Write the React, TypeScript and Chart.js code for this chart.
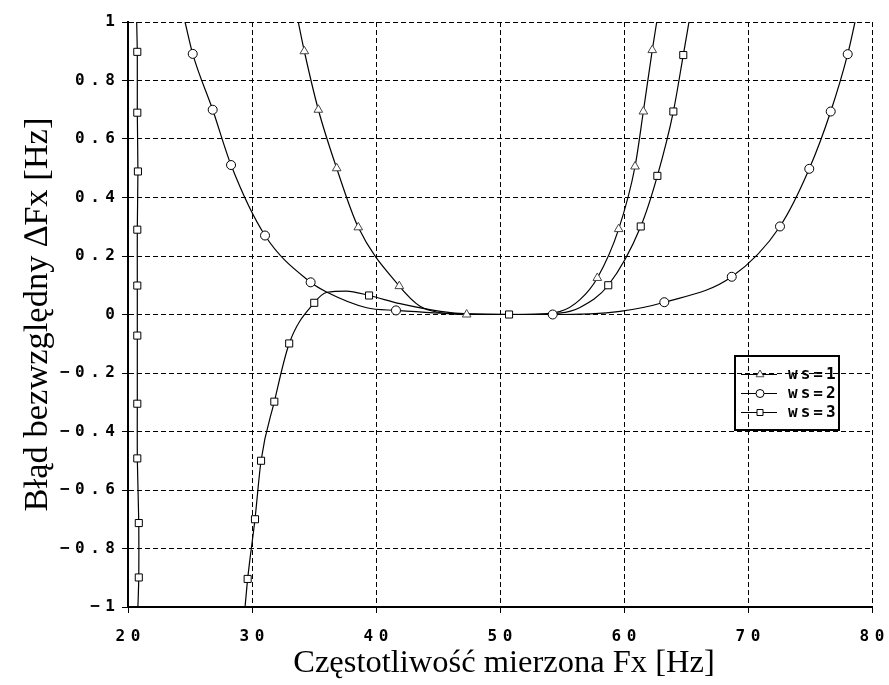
import React, { useEffect, useRef } from 'react';
import { Chart, registerables } from 'chart.js';

Chart.register(...registerables);

const xTicks = [20, 30, 40, 50, 60, 70, 80];
const xTickLabels = ['20', '30', '40', '50', '60', '70', '80'];
const yTicks = [-1, -0.8, -0.6, -0.4, -0.2, 0, 0.2, 0.4, 0.6, 0.8, 1];
const yTickLabels = ['−1', '−0.8', '−0.6', '−0.4', '−0.2', '0', '0.2', '0.4', '0.6', '0.8', '1'];
const seriesNames = ['ws=1', 'ws=2', 'ws=3'];
const xTitle = 'Częstotliwość mierzona Fx [Hz]';
const yTitle = 'Błąd bezwzględny ∆Fx [Hz]';

// ws=1 (triangles)
const ws1PathX = [33.73, 34.22, 35.35, 36.83, 38.57, 41.88, 43.55, 45.2, 47.31, 52.0, 54.8, 56.45, 57.85, 59.57, 60.89, 61.56, 62.28, 62.64];
const ws1PathY = [1.0, 0.9, 0.7, 0.5, 0.298, 0.097, 0.028, 0.006, 0.0, 0.0, 0.01, 0.051, 0.125, 0.292, 0.506, 0.694, 0.904, 1.0];
const ws1MarkX = [34.22, 35.35, 36.83, 38.57, 41.88, 47.31, 57.85, 59.57, 60.89, 61.56, 62.28];
const ws1MarkY = [0.9, 0.7, 0.5, 0.298, 0.097, 0.0, 0.125, 0.292, 0.506, 0.694, 0.904];

// ws=2 (circles)
const ws2PathX = [24.6, 25.22, 26.83, 28.31, 31.05, 34.73, 36.05, 39.25, 41.61, 47.0, 54.25, 59.68, 63.25, 68.69, 72.58, 74.94, 76.67, 78.04, 78.63];
const ws2PathY = [1.0, 0.891, 0.7, 0.511, 0.27, 0.11, 0.076, 0.023, 0.014, 0.002, 0.0, 0.011, 0.042, 0.129, 0.301, 0.498, 0.694, 0.89, 1.0];
const ws2MarkX = [25.22, 26.83, 28.31, 31.05, 34.73, 41.61, 54.25, 63.25, 68.69, 72.58, 74.94, 76.67, 78.04];
const ws2MarkY = [0.891, 0.7, 0.511, 0.27, 0.11, 0.014, 0.0, 0.042, 0.129, 0.301, 0.498, 0.694, 0.89];

// ws=3 (squares) - left branch
const ws3aPathX = [20.7, 20.75, 20.75, 20.8, 20.75, 20.75, 20.75, 20.75, 20.75, 20.87, 20.87, 20.8];
const ws3aPathY = [1.0, 0.898, 0.69, 0.489, 0.29, 0.099, -0.072, -0.305, -0.492, -0.713, -0.899, -1.0];
const ws3aMarkX = [20.75, 20.75, 20.8, 20.75, 20.75, 20.75, 20.75, 20.75, 20.87, 20.87];
const ws3aMarkY = [0.898, 0.69, 0.489, 0.29, 0.099, -0.072, -0.305, -0.492, -0.713, -0.899];
// ws=3 - right branch
const ws3bPathX = [29.44, 29.65, 30.24, 30.73, 31.8, 33.0, 35.02, 36.05, 37.6, 39.44, 41.94, 45.2, 47.5, 50.73, 54.8, 56.45, 58.73, 61.35, 62.69, 63.98, 64.78, 65.24];
const ws3bPathY = [-1.0, -0.904, -0.7, -0.5, -0.298, -0.099, 0.04, 0.076, 0.08, 0.065, 0.037, 0.011, 0.002, 0.0, 0.005, 0.024, 0.1, 0.301, 0.474, 0.694, 0.887, 1.0];
const ws3bMarkX = [29.65, 30.24, 30.73, 31.8, 33.0, 35.02, 39.44, 50.73, 58.73, 61.35, 62.69, 63.98, 64.78];
const ws3bMarkY = [-0.904, -0.7, -0.5, -0.298, -0.099, 0.04, 0.065, 0.0, 0.1, 0.301, 0.474, 0.694, 0.887];

const zip = (xs: number[], ys: number[]) => xs.map((x, i) => ({ x, y: ys[i] }));

const tickFont = { family: '"DejaVu Sans Mono", monospace', size: 16, weight: 'bold' as const };
const TICK_SPACING = 5.5;
const LEGEND_SPACING = 3;

function drawMarker(ctx: CanvasRenderingContext2D, kind: string, x: number, y: number) {
  ctx.beginPath();
  if (kind === 'triangle') {
    const r = 4.5;
    ctx.moveTo(x, y - r);
    ctx.lineTo(x + r * 0.866, y + r * 0.5);
    ctx.lineTo(x - r * 0.866, y + r * 0.5);
    ctx.closePath();
    ctx.strokeStyle = '#444';
  } else if (kind === 'circle') {
    ctx.arc(x, y, 4, 0, Math.PI * 2);
    ctx.strokeStyle = '#000';
  } else {
    ctx.rect(x - 3, y - 3, 6, 6);
    ctx.strokeStyle = '#000';
  }
  ctx.fillStyle = '#fff';
  ctx.fill();
  ctx.lineWidth = 1;
  ctx.stroke();
}

const customPlugin = {
  id: 'customDecor',
  beforeDraw(chart: any) {
    chart.ctx.letterSpacing = TICK_SPACING + 'px';
  },
  afterDraw(chart: any) {
    const ctx: CanvasRenderingContext2D = chart.ctx;
    const area = chart.chartArea;
    ctx.save();
    (ctx as any).letterSpacing = '0px';
    ctx.fillStyle = '#000';
    ctx.textAlign = 'center';
    ctx.textBaseline = 'alphabetic';
    ctx.font = '32.5px "Liberation Serif", serif';
    ctx.fillText(xTitle, 504, 672);
    ctx.save();
    ctx.font = '34.5px "Liberation Serif", serif';
    ctx.translate(47, (area.top + area.bottom) / 2);
    ctx.rotate(-Math.PI / 2);
    ctx.fillText(yTitle, 0, 0);
    ctx.restore();

    // legend box
    const bx = 735, by = 356, bw = 104, bh = 74;
    ctx.lineWidth = 2;
    ctx.strokeStyle = '#000';
    ctx.strokeRect(bx, by, bw, bh);
    const kinds = ['triangle', 'circle', 'rect'];
    const rows = [374, 393, 412];
    (ctx as any).letterSpacing = LEGEND_SPACING + 'px';
    ctx.font = 'bold 16px "DejaVu Sans Mono", monospace';
    ctx.textAlign = 'left';
    ctx.textBaseline = 'middle';
    seriesNames.forEach((name, i) => {
      const y = rows[i];
      ctx.beginPath();
      ctx.moveTo(741, y + 0.5);
      ctx.lineTo(777, y + 0.5);
      ctx.lineWidth = 1;
      ctx.strokeStyle = '#000';
      ctx.stroke();
      drawMarker(ctx, kinds[i], 760, y + 0.5);
      ctx.fillStyle = '#000';
      ctx.fillText(name, 788, y + 1);
    });
    ctx.restore();
  },
};

export default function App() {
  const ref = useRef<HTMLCanvasElement | null>(null);
  useEffect(() => {
    if (!ref.current) return;
    const lineBase = {
      showLine: true,
      borderColor: '#000',
      borderWidth: 1.2,
      pointRadius: 0,
      pointHoverRadius: 0,
      fill: false,
    };
    const markBase = {
      showLine: false,
      pointBackgroundColor: '#fff',
      pointBorderColor: '#000',
      pointBorderWidth: 1,
      borderColor: '#000',
      backgroundColor: '#fff',
    };
    const chart = new Chart(ref.current, {
      type: 'scatter',
      data: {
        datasets: [
          { ...markBase, label: seriesNames[0], data: zip(ws1MarkX, ws1MarkY), pointStyle: 'triangle', pointRadius: 5, pointBorderColor: '#444' },
          { ...markBase, label: seriesNames[1], data: zip(ws2MarkX, ws2MarkY), pointStyle: 'circle', pointRadius: 4.5 },
          { ...markBase, label: seriesNames[2], data: zip(ws3aMarkX, ws3aMarkY), pointStyle: 'rect', pointRadius: 5 },
          { ...markBase, label: seriesNames[2], data: zip(ws3bMarkX, ws3bMarkY), pointStyle: 'rect', pointRadius: 5 },
          { ...lineBase, label: seriesNames[0], data: zip(ws1PathX, ws1PathY), cubicInterpolationMode: 'monotone' },
          { ...lineBase, label: seriesNames[1], data: zip(ws2PathX, ws2PathY), cubicInterpolationMode: 'monotone' },
          { ...lineBase, label: seriesNames[2], data: zip(ws3aPathX, ws3aPathY), tension: 0.2 },
          { ...lineBase, label: seriesNames[2], data: zip(ws3bPathX, ws3bPathY), cubicInterpolationMode: 'monotone' },
        ] as any,
      },
      options: {
        responsive: false,
        animation: false,
        events: [],
        layout: { padding: { top: 22, right: 17, left: 0, bottom: 0 } },
        plugins: { legend: { display: false }, tooltip: { enabled: false }, title: { display: false } },
        scales: {
          x: {
            type: 'linear',
            min: 20,
            max: 80,
            afterBuildTicks: (s: any) => { s.ticks = xTicks.map((v) => ({ value: v })); },
            afterFit: (s: any) => { s.height = 78; s.paddingLeft = 0; s.paddingRight = 0; },
            ticks: {
              callback: (v: any) => xTickLabels[xTicks.indexOf(Number(v))] ?? '',
              font: tickFont,
              color: '#000',
              padding: 14,
              labelOffset: TICK_SPACING / 2,
              maxRotation: 0,
              autoSkip: false,
            },
            grid: { color: '#000', lineWidth: 1, tickLength: 6, tickColor: '#000', tickBorderDash: [], drawTicks: true },
            border: { display: true, color: '#000', width: 2, dash: [5, 3] },
          },
          y: {
            type: 'linear',
            min: -1,
            max: 1,
            afterBuildTicks: (s: any) => { s.ticks = yTicks.map((v) => ({ value: v })); },
            afterFit: (s: any) => { s.width = 128; s.paddingTop = 0; s.paddingBottom = 0; },
            ticks: {
              callback: (v: any) => {
                const idx = yTicks.findIndex((t) => Math.abs(t - Number(v)) < 1e-6);
                return idx >= 0 ? yTickLabels[idx] : '';
              },
              font: tickFont,
              color: '#000',
              padding: 1.5,
              autoSkip: false,
            },
            grid: { color: '#000', lineWidth: 1, tickLength: 6, tickColor: '#000', tickBorderDash: [], drawTicks: true },
            border: { display: true, color: '#000', width: 2, dash: [5, 3] },
          },
        },
      } as any,
      plugins: [customPlugin],
    });
    return () => chart.destroy();
  }, []);
  return (
    <div style={{ position: 'fixed', left: 0, top: 0, width: 889, height: 685, background: '#fff' }}>
      <canvas ref={ref} width={889} height={685} style={{ width: 889, height: 685, display: 'block' }} />
    </div>
  );
}
